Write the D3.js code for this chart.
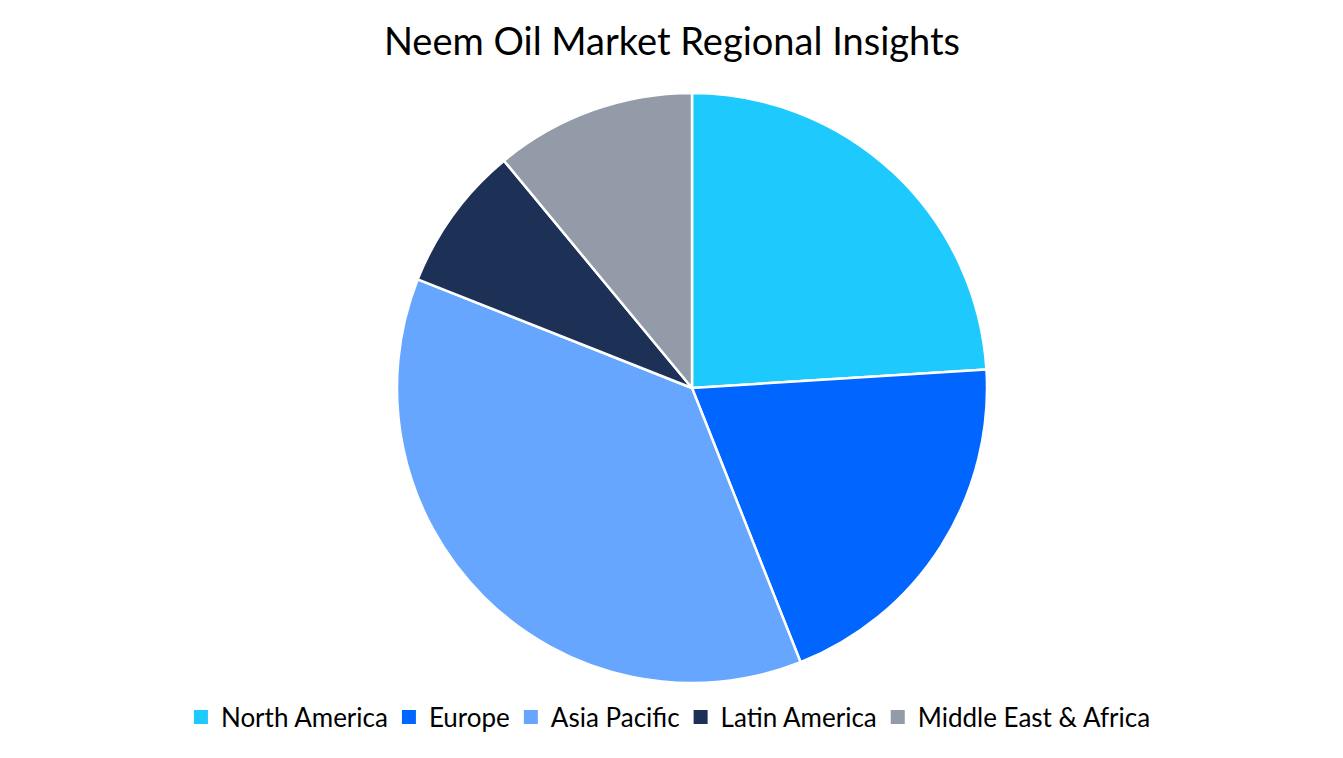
<!DOCTYPE html>
<html><head><meta charset="utf-8">
<script src="https://cdn.jsdelivr.net/npm/d3@7"></script>
<style>body{margin:0;background:#fff;} svg{display:block;}</style>
</head><body>
<svg id="chart" width="1343" height="758"></svg>
<script>
const categories = ["North America","Europe","Asia Pacific","Latin America","Middle East & Africa"];
const values = [24, 20, 37, 8, 11];
const colors = ["#1dc9fd","#0066ff","#66a6ff","#1d3157","#939aa8"];
const title = "Neem Oil Market Regional Insights";

const svg = d3.select("#chart");
const cx = 692, cy = 388, R = 295;
const font = "Lato, 'Open Sans', sans-serif";

svg.append("text").attr("x", 672).attr("y", 55).attr("text-anchor","middle")
  .attr("font-family", font).attr("font-size", 38).attr("fill","#000").text(title);

const data = categories.map((c,i)=>({cat:c, v:values[i]}));
const pie = d3.pie().value(d=>d.v).sort(null);
const arc = d3.arc().innerRadius(0).outerRadius(R);
const color = d3.scaleOrdinal().domain(categories).range(colors);

svg.append("g").attr("transform",`translate(${cx},${cy})`)
  .selectAll("path").data(pie(data)).join("path")
  .attr("d", arc).attr("fill", d=>color(d.data.cat))
  .attr("stroke","#fff").attr("stroke-width",2.5).attr("stroke-linejoin","round");

// legend
const lg = svg.append("g");
const fs = 26, sq = 14, gapSq = 13, gapItem = 14;
const items = [];
categories.forEach((c)=>{
  const g = lg.append("g");
  g.append("rect").attr("x",0).attr("y",-sq/2-1).attr("width",sq).attr("height",sq).attr("fill",color(c));
  const t = g.append("text").attr("x",sq+gapSq).attr("y",0).attr("dy","0.35em")
    .attr("font-family",font).attr("font-size",fs).attr("fill","#000").text(c);
  const w = sq+gapSq+t.node().getComputedTextLength();
  items.push({g,w});
});
const total = items.reduce((a,b)=>a+b.w,0)+gapItem*(items.length-1);
let x = 672 - total/2;
items.forEach(it=>{ it.g.attr("transform",`translate(${x},718)`); x += it.w+gapItem; });
</script>
</body></html>
